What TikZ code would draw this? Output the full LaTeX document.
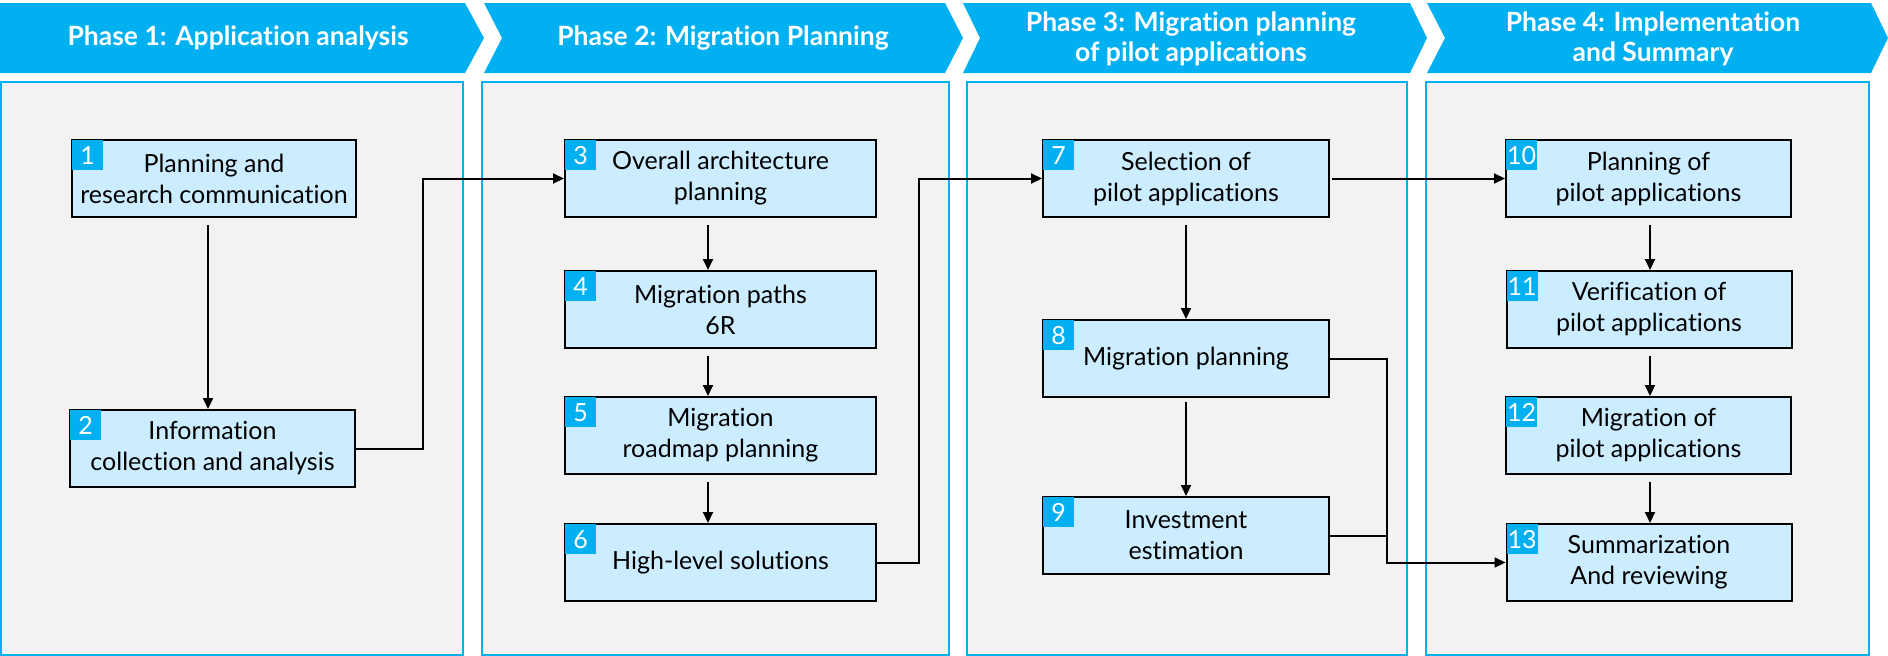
\documentclass[tikz,border=0pt]{standalone}
\usepackage{fontspec}
\setmainfont[Ligatures={NoCommon,NoContextual}]{Lato}
\usetikzlibrary{arrows.meta}
\definecolor{hblue}{RGB}{0,176,240}
\definecolor{pgray}{RGB}{242,242,242}
\definecolor{bfill}{RGB}{204,236,255}
\begin{document}
\begin{tikzpicture}[x=1pt,y=-1pt,
 hdr/.style={fill=hblue,draw=none},
 hdrtext/.style={text=white,font=\fontsize{26.5}{30.5}\selectfont\bfseries,align=center,inner sep=0pt},
 panel/.style={draw=hblue,fill=pgray,line width=2pt},
 stepbox/.style={draw=black,fill=bfill,line width=2pt,minimum height=77pt,inner sep=0pt,align=center,font=\fontsize{25}{31}\selectfont},
 badge/.style={fill=hblue,text=white,minimum width=31pt,minimum height=30pt,inner sep=0pt,font=\fontsize{25}{30}\selectfont},
 arr/.style={-{Triangle[length=11pt,width=10pt]},line width=2pt},
 link/.style={line width=2pt}
]
\useasboundingbox (0,0) rectangle (1888,656);
\fill[white] (0,0) rectangle (1888,656);
% headers
\fill[hdr] (0,3) -- (465,3) -- (484,38) -- (465,73) -- (0,73) -- cycle;
\fill[hdr] (484,3) -- (945,3) -- (963,38) -- (945,73) -- (484,73) -- (502,38) -- cycle;
\fill[hdr] (963,3) -- (1410,3) -- (1427,38) -- (1410,73) -- (963,73) -- (980,38) -- cycle;
\fill[hdr] (1427,3) -- (1871,3) -- (1888,38) -- (1871,73) -- (1427,73) -- (1445,38) -- cycle;
\node[hdrtext] (h1) at (238,38) {Phase 1: Application analysis};
\node[hdrtext] (h2) at (723,38) {Phase 2: Migration Planning};
\node[hdrtext] (h3) at (1191,39) {Phase 3: Migration planning\\of pilot applications};
\node[hdrtext] (h4) at (1653,39) {Phase 4: Implementation\\and Summary};
% panels
\draw[panel] (1,82) rectangle (463,655);
\draw[panel] (482,82) rectangle (949,655);
\draw[panel] (967,82) rectangle (1407,655);
\draw[panel] (1426,82) rectangle (1869,655);
% boxes
\node[stepbox,minimum width=284pt] (b1) at (214,178.5) {Planning and\\research communication};
\node[stepbox,minimum width=285pt] (b2) at (212.5,448.5) {Information\\collection and analysis};
\node[stepbox,minimum width=311pt] (b3) at (720.5,178.5) {Overall architecture\\planning};
\node[stepbox,minimum width=311pt] (b4) at (720.5,309.5) {Migration paths\\6R};
\node[stepbox,minimum width=311pt] (b5) at (720.5,435.5) {Migration\\roadmap planning};
\node[stepbox,minimum width=311pt] (b6) at (720.5,562.5) {High-level solutions};
\node[stepbox,minimum width=286pt] (b7) at (1186,178.5) {Selection of\\pilot applications};
\node[stepbox,minimum width=286pt] (b8) at (1186,358.5) {Migration planning};
\node[stepbox,minimum width=286pt] (b9) at (1186,535.5) {Investment\\estimation};
\node[stepbox,minimum width=285pt] (b10) at (1648.5,178.5) {Planning of\\pilot applications};
\node[stepbox,minimum width=285pt] (b11) at (1649,309.5) {Verification of\\pilot applications};
\node[stepbox,minimum width=285pt] (b12) at (1648.5,435.5) {Migration of\\pilot applications};
\node[stepbox,minimum width=285pt] (b13) at (1649,562.5) {Summarization\\And reviewing};
% badges
\foreach \i in {1,...,13}{
  \node[badge,anchor=north west] (n\i) at ([xshift=1pt,yshift=-1pt]b\i.north west) {\i};
}
% vertical arrow columns
\coordinate (v1) at (208,0);
\coordinate (v2) at (708,0);
\coordinate (v3) at (1186,0);
\coordinate (v4) at (1650,0);
\draw[arr,shorten <=7pt] (b1.south -| v1) -- (b2.north -| v1);
\draw[arr,shorten <=7pt] (b3.south -| v2) -- (b4.north -| v2);
\draw[arr,shorten <=7pt] (b4.south -| v2) -- (b5.north -| v2);
\draw[arr,shorten <=7pt] (b5.south -| v2) -- (b6.north -| v2);
\draw[arr,shorten <=7pt] (b7.south -| v3) -- (b8.north -| v3);
\draw[arr,shorten <=4pt] (b8.south -| v3) -- (b9.north -| v3);
\draw[arr,shorten <=7pt] (b10.south -| v4) -- (b11.north -| v4);
\draw[arr,shorten <=7pt] (b11.south -| v4) -- (b12.north -| v4);
\draw[arr,shorten <=7pt] (b12.south -| v4) -- (b13.north -| v4);
% cross-phase connectors
\coordinate (j1) at (423,300);
\coordinate (j2) at (919,300);
\coordinate (j3) at (1387,562.5);
\draw[arr] (b2.east) -| (j1) |- (b3.west);
\draw[arr] (b6.east) -| (j2) |- (b7.west);
\draw[arr,shorten <=2pt] (b7.east) -- (b10.west);
\draw[link] (b9.east) -| (j3);
\draw[arr] (b8.east) -| (j3) -- (b13.west);
\end{tikzpicture}
\end{document}
